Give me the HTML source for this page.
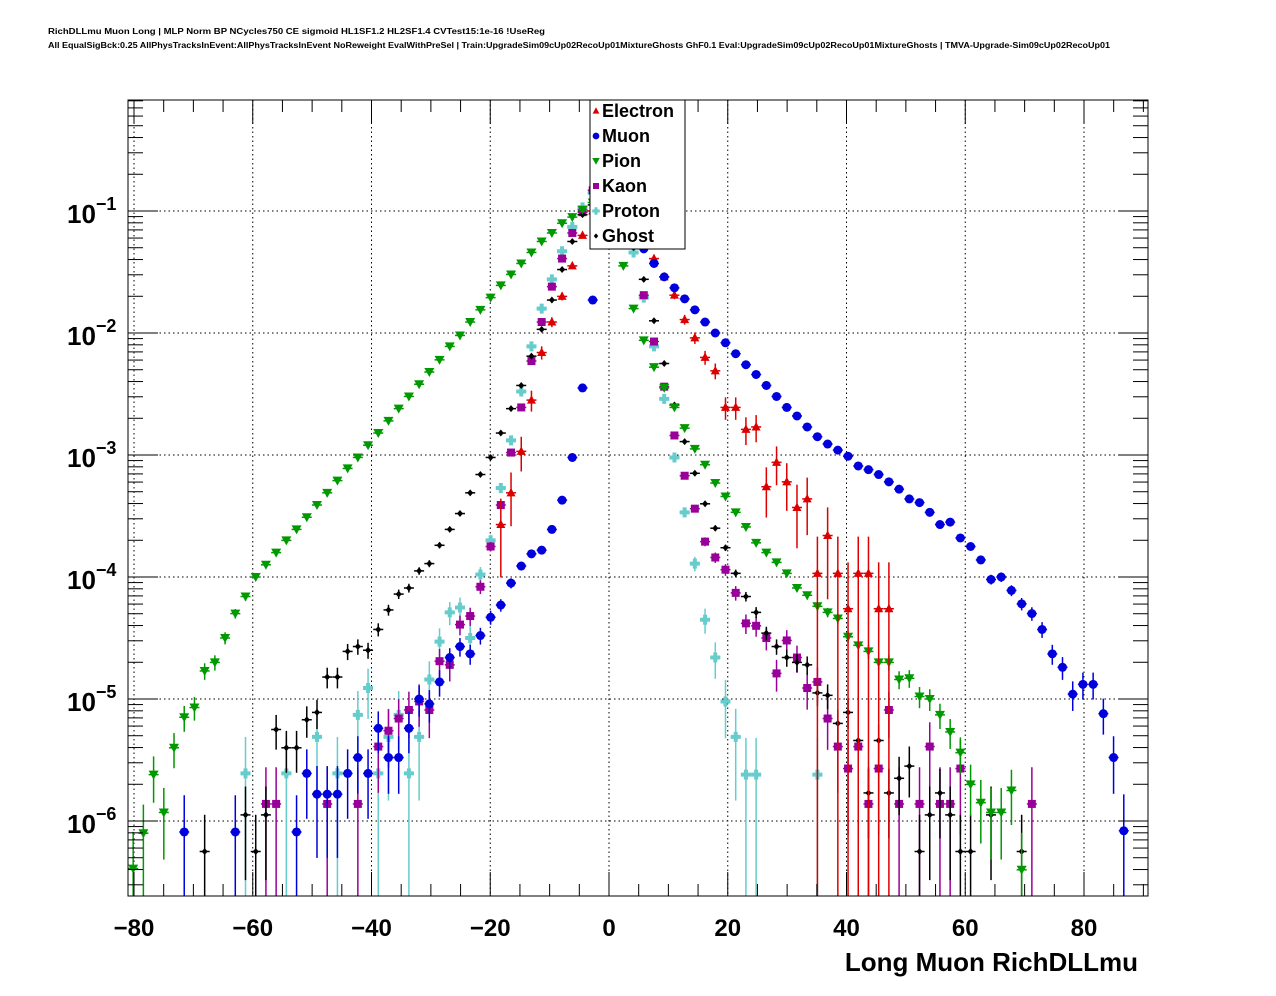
<!DOCTYPE html>
<html><head><meta charset="utf-8"><style>
html,body{margin:0;padding:0;background:#fff;}
svg{display:block;font-family:"Liberation Sans",sans-serif;}
</style></head><body>
<svg id="chart" width="1276" height="996" viewBox="0 0 1276 996" xmlns="http://www.w3.org/2000/svg">
<rect x="0" y="0" width="1276" height="996" fill="#fff"/>
<text x="48" y="34" font-size="8" font-weight="bold" textLength="497" lengthAdjust="spacingAndGlyphs">RichDLLmu Muon Long | MLP Norm BP NCycles750 CE sigmoid HL1SF1.2 HL2SF1.4 CVTest15:1e-16 !UseReg</text>
<text x="48" y="48" font-size="8" font-weight="bold" textLength="1062" lengthAdjust="spacingAndGlyphs">All EqualSigBck:0.25 AllPhysTracksInEvent:AllPhysTracksInEvent NoReweight EvalWithPreSel | Train:UpgradeSim09cUp02RecoUp01MixtureGhosts GhF0.1 Eval:UpgradeSim09cUp02RecoUp01MixtureGhosts | TMVA-Upgrade-Sim09cUp02RecoUp01</text>
<g id="grid"></g><g id="marks"></g><g id="axes"></g><g id="legend"></g>
<text x="1138" y="971" font-size="26" font-weight="bold" text-anchor="end">Long Muon RichDLLmu</text>
</svg>
<script>
const pionBins=[0,1,2,3,4,5,6,7,8,9,10,11,12,13,14,15,16,17,18,19,20,21,22,23,24,25,26,27,28,29,30,31,32,33,34,35,36,37,38,39,40,41,42,43,44,45,46,47,48,49,50,51,52,53,54,55,56,57,58,59,60,61,62,63,64,65,66,67,68,69,70,71,72,73,74,75,76,77,78,79,80,81,82,83,84,85,86,87];
const pionLog=[-6.39,-6.10,-5.62,-5.93,-5.40,-5.15,-5.07,-4.77,-4.70,-4.50,-4.30,-4.16,-4.00,-3.90,-3.80,-3.70,-3.61,-3.51,-3.41,-3.31,-3.21,-3.11,-3.02,-2.92,-2.82,-2.72,-2.62,-2.52,-2.42,-2.32,-2.22,-2.11,-2.02,-1.91,-1.81,-1.71,-1.61,-1.52,-1.43,-1.34,-1.25,-1.18,-1.10,-1.05,-0.99,-0.93,-0.86,-1.00,-1.45,-1.80,-2.06,-2.28,-2.45,-2.61,-2.78,-2.95,-3.08,-3.23,-3.34,-3.47,-3.59,-3.72,-3.80,-3.88,-3.97,-4.09,-4.15,-4.24,-4.29,-4.34,-4.49,-4.56,-4.61,-4.70,-4.70,-4.84,-4.83,-4.98,-5.00,-5.13,-5.27,-5.44,-5.70,-5.85,-5.93,-5.93,-5.75,-6.40];
const muonBins=[5,10,16,17,18,19,20,21,22,23,24,25,26,27,28,29,30,31,32,33,34,35,36,37,38,39,40,41,42,43,44,45,46,47,48,49,50,51,52,53,54,55,56,57,58,59,60,61,62,63,64,65,66,67,68,69,70,71,72,73,74,75,76,77,78,79,80,81,82,83,84,85,86,87,88,89,90,91,92,93,94,95,96,97];
const muonLog=[-6.09,-6.09,-6.09,-5.61,-5.78,-5.78,-5.78,-5.61,-5.48,-5.61,-5.24,-5.48,-5.48,-5.24,-5.00,-5.04,-4.86,-4.66,-4.57,-4.63,-4.48,-4.33,-4.23,-4.05,-3.91,-3.81,-3.78,-3.61,-3.37,-3.02,-2.45,-1.73,-1.00,-0.85,-1.05,-1.18,-1.31,-1.43,-1.54,-1.63,-1.72,-1.81,-1.91,-2.00,-2.08,-2.17,-2.26,-2.34,-2.43,-2.52,-2.61,-2.68,-2.77,-2.85,-2.91,-2.96,-3.01,-3.09,-3.12,-3.16,-3.22,-3.28,-3.36,-3.39,-3.47,-3.57,-3.55,-3.68,-3.75,-3.86,-4.02,-4.00,-4.11,-4.22,-4.30,-4.43,-4.63,-4.74,-4.96,-4.88,-4.88,-5.12,-5.48,-6.08];
const electronBins=[36,37,38,39,40,41,42,43,44,45,46,47,48,49,50,51,52,53,54,55,56,57,58,59,60,61,62,63,64,65,66,67,68,69,70,71,72,73,74];
const electronLog=[-3.57,-3.31,-2.97,-2.55,-2.16,-1.91,-1.70,-1.45,-1.20,-1.00,-0.90,-0.90,-1.00,-1.10,-1.25,-1.39,-1.54,-1.69,-1.89,-2.04,-2.20,-2.31,-2.61,-2.61,-2.79,-2.77,-3.26,-3.06,-3.22,-3.43,-3.36,-3.97,-3.66,-3.97,-4.26,-3.97,-3.97,-4.26,-4.26];
const kaonBins=[13,14,19,22,24,25,26,27,28,29,30,31,32,33,34,35,36,37,38,39,40,41,42,43,44,45,46,47,48,49,50,51,52,53,54,55,56,57,58,59,60,61,62,63,64,65,66,67,68,69,70,71,72,73,74,75,77,78,79,80,81,88];
const kaonLog=[-5.86,-5.86,-5.86,-5.86,-5.39,-5.26,-5.16,-5.09,-5.02,-5.09,-4.69,-4.72,-4.39,-4.32,-4.08,-3.75,-3.41,-2.98,-2.61,-2.23,-1.91,-1.62,-1.39,-1.18,-1.01,-0.83,-0.80,-0.85,-1.00,-1.20,-1.69,-2.07,-2.44,-2.84,-3.17,-3.44,-3.71,-3.84,-3.94,-4.13,-4.38,-4.40,-4.50,-4.79,-4.52,-4.66,-4.91,-4.86,-5.16,-5.39,-5.57,-5.39,-5.86,-5.57,-5.09,-5.86,-5.86,-5.39,-5.86,-5.86,-5.57,-5.86];
const protonBins=[11,15,18,20,22,23,24,25,26,27,28,29,30,31,32,33,34,35,36,37,38,39,40,41,42,43,44,45,46,47,48,49,50,51,52,53,54,55,56,57,58,59,60,61,67];
const protonLog=[-5.61,-5.61,-5.31,-5.61,-5.13,-4.91,-5.61,-5.31,-5.13,-5.61,-5.31,-4.84,-4.53,-4.29,-4.25,-4.50,-3.98,-3.70,-3.27,-2.88,-2.48,-2.11,-1.80,-1.56,-1.33,-1.13,-0.97,-0.85,-0.80,-0.85,-1.00,-1.34,-1.71,-2.11,-2.54,-3.02,-3.47,-3.89,-4.35,-4.66,-5.02,-5.31,-5.62,-5.62,-5.62];
const ghostBins=[7,11,12,13,14,15,16,17,18,19,20,21,22,23,24,25,26,27,28,29,30,31,32,33,34,35,36,37,38,39,40,41,42,43,44,45,46,47,48,49,50,51,52,53,54,55,56,57,58,59,60,61,62,63,64,65,66,67,68,69,70,71,72,73,74,75,76,77,78,79,80,81,82,84,87];
const ghostLog=[-6.25,-5.95,-6.25,-5.95,-5.25,-5.40,-5.40,-5.17,-5.11,-4.82,-4.82,-4.61,-4.57,-4.60,-4.43,-4.27,-4.14,-4.09,-3.95,-3.89,-3.74,-3.61,-3.48,-3.31,-3.16,-3.02,-2.82,-2.62,-2.43,-2.19,-1.97,-1.73,-1.48,-1.25,-1.03,-0.95,-0.90,-0.95,-1.10,-1.30,-1.56,-1.90,-2.25,-2.59,-2.89,-3.15,-3.40,-3.60,-3.76,-3.97,-4.16,-4.29,-4.46,-4.57,-4.66,-4.70,-4.72,-4.95,-4.97,-5.20,-5.11,-5.34,-5.77,-5.34,-5.77,-5.65,-5.55,-6.25,-5.95,-5.77,-5.95,-6.25,-6.25,-5.95,-6.25];
const xTicks=[-80,-60,-40,-20,0,20,40,60,80];
const yDecades=[-1,-2,-3,-4,-5,-6];
const legendLabels=["Electron","Muon","Pion","Kaon","Proton","Ghost"];

const NS="http://www.w3.org/2000/svg";
const L=128,R=1148,T=100,B=896;
const binLo=-81,binW=1.72;
function xPx(v){return 609+v*5.9375;}
function yPx(lv){return 211-(lv+1)*122;}
function binCenter(i){return binLo+binW*(i+0.5);}
function mk(tag,attrs,parent){const e=document.createElementNS(NS,tag);for(const k in attrs)e.setAttribute(k,attrs[k]);parent.appendChild(e);return e;}
const grid=document.getElementById('grid'),marks=document.getElementById('marks'),axes=document.getElementById('axes'),legend=document.getElementById('legend');

// grid
xTicks.forEach(t=>{const g=mk('line',{x1:xPx(t),x2:xPx(t),y1:T,y2:B,stroke:'#000','stroke-width':1,'stroke-dasharray':'1.5,3'},grid);

});
yDecades.forEach(d=>{const g=mk('line',{x1:L,x2:R,y1:yPx(d),y2:yPx(d),stroke:'#000','stroke-width':1,'stroke-dasharray':'1.5,3'},grid);

});

// frame
const fr=mk('rect',{x:L,y:T,width:R-L,height:B-T,fill:'none',stroke:'#000','stroke-width':1},axes);


// x ticks
for(let v=-80;v<=90;v+=5){const x=xPx(v);if(x<L||x>R)continue;const maj=(v%20===0);const len=maj?24:12;
mk('line',{x1:x,x2:x,y1:B,y2:B-len,stroke:'#000'},axes);mk('line',{x1:x,x2:x,y1:T,y2:T+len,stroke:'#000'},axes);}
xTicks.forEach(t=>{const tx=mk('text',{x:xPx(t),y:936,'font-size':24,'font-weight':'bold','text-anchor':'middle'},axes);tx.textContent=(t<0?'\u2212':'')+Math.abs(t);

});
// y ticks
for(let d=-7;d<=0;d++){for(let m=1;m<=9;m++){const lv=d+Math.log10(m);const y=yPx(lv);if(y<T||y>B)continue;const len=m===1?30:15;
mk('line',{x1:L,x2:L+len,y1:y,y2:y,stroke:'#000'},axes);mk('line',{x1:R,x2:R-len,y1:y,y2:y,stroke:'#000'},axes);}}
yDecades.forEach(d=>{const y=yPx(d);const tx=mk('text',{x:67,y:y+12,'font-size':26,'font-weight':'bold'},axes);


tx.textContent='10';const s=mk('tspan',{dy:-13,'font-size':18},tx);s.textContent='\u2212'+Math.abs(d);});

function marker(shape,x,y,c,g){
 if(shape==='tri')return mk('polygon',{points:`${x},${y-5} ${x-4.5},${y+3.5} ${x+4.5},${y+3.5}`,fill:c},g);
 if(shape==='dtri')return mk('polygon',{points:`${x},${y+5} ${x-5},${y-4} ${x+5},${y-4}`,fill:c},g);
 if(shape==='circ')return mk('circle',{cx:x,cy:y,r:4.5,fill:c},g);
 if(shape==='sq')return mk('rect',{x:x-4,y:y-4,width:8,height:8,fill:c},g);
 if(shape==='cross')return mk('path',{d:`M${x-5},${y-2}h3v-3h4v3h3v4h-3v3h-4v-3h-3z`,fill:c},g);
 return mk('polygon',{points:`${x},${y-3.5} ${x+3},${y} ${x},${y+3.5} ${x-3},${y}`,fill:c},g);
}
const series=[
 {name:'electron',bins:electronBins,vals:electronLog,unit:-3.97,color:'#dd0000',shape:'tri'},
 {name:'muon',bins:muonBins,vals:muonLog,unit:-6.09,color:'#0000dd',shape:'circ'},
 {name:'pion',bins:pionBins,vals:pionLog,unit:-6.39,color:'#009900',shape:'dtri'},
 {name:'kaon',bins:kaonBins,vals:kaonLog,unit:-5.86,color:'#990099',shape:'sq'},
 {name:'proton',bins:protonBins,vals:protonLog,unit:-5.62,color:'#66cccc',shape:'cross'},
 {name:'ghost',bins:ghostBins,vals:ghostLog,unit:-6.25,color:'#000000',shape:'dia'}];
const drawOrder=[4,3,5,2,0,1];
drawOrder.forEach(si=>{const s=series[si];const g=mk('g',{},marks);
 
 
 s.bins.forEach((b,k)=>{const lv=s.vals[k];const v=Math.pow(10,lv);const u=Math.pow(10,s.unit);
  const err=Math.sqrt(v/u)*u;const x=xPx(binCenter(b));const y=yPx(lv);
  const up=Math.max(T,yPx(Math.log10(v+err)));const lo=(v-err)>1e-9?Math.min(B,yPx(Math.log10(v-err))):B;
  const pg=mk('g',{},g);
  
  
  if(y<T||y>B)return;
  mk('line',{x1:x,x2:x,y1:up,y2:lo,stroke:s.color,'stroke-width':1.5},pg);
  mk('line',{x1:x-5,x2:x+5,y1:y,y2:y,stroke:s.color,'stroke-width':1.5},pg);
  marker(s.shape,x,y,s.color,pg);
 });
});
// legend
const lb=mk('rect',{x:590,y:100,width:95,height:149,fill:'#fff',stroke:'#000','stroke-width':1},legend);


legendLabels.forEach((lab,i)=>{const y=111+i*25;const g=mk('g',{},legend);
 
 
 const s=series[i];const m=marker(s.shape,596,y,s.color,g);m.setAttribute('transform',`translate(596 ${y}) scale(0.75) translate(-596 ${-y})`);
 const t=mk('text',{x:602,y:y+6,'font-size':18,'font-weight':'bold'},g);t.textContent=lab;});
</script>
</body></html>
